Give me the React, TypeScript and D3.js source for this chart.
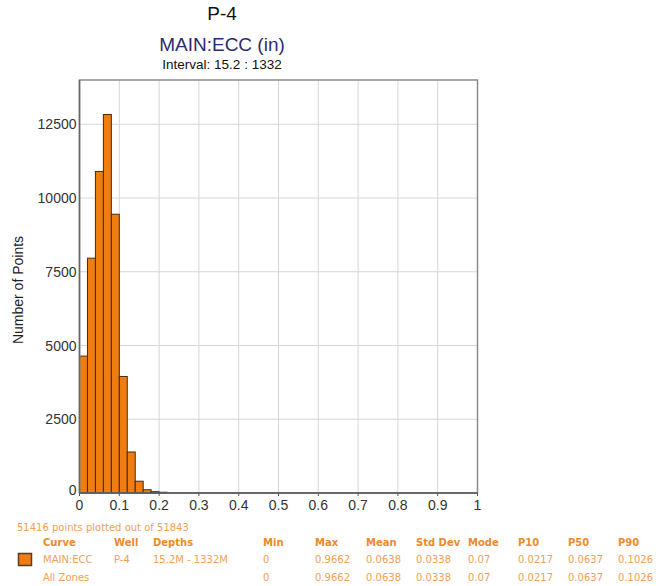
import React from "react";
import * as d3 from "d3";

const binStarts = [0, 0.02, 0.04, 0.06, 0.08, 0.1, 0.12, 0.14, 0.16, 0.18, 0.2];
const binCounts = [4640, 7960, 10900, 12830, 9450, 3950, 1390, 400, 110, 45, 25];
const binWidth = 0.02;
const xTicks = [0, 0.1, 0.2, 0.3, 0.4, 0.5, 0.6, 0.7, 0.8, 0.9, 1];
const yTicks = [0, 2500, 5000, 7500, 10000, 12500];

const statHeaders = ["Curve", "Well", "Depths", "Min", "Max", "Mean", "Std Dev", "Mode", "P10", "P50", "P90"];
const statRow1 = ["MAIN:ECC", "P-4", "15.2M - 1332M", "0", "0.9662", "0.0638", "0.0338", "0.07", "0.0217", "0.0637", "0.1026"];
const statRow2 = ["All Zones", "", "", "0", "0.9662", "0.0638", "0.0338", "0.07", "0.0217", "0.0637", "0.1026"];
const statColX = [43, 114, 153, 263, 315, 366, 416, 468, 518, 568, 618];

export default function App() {
  const W = 656, H = 586;
  const left = 79.5, right = 477.5, top = 80, bottom = 493;
  const x = d3.scaleLinear().domain([0, 1]).range([left, right]);
  const y = d3.scaleLinear().domain([0, 14000]).range([bottom, top]);
  const gridColor = "#d6d6d6";
  const font = "'Liberation Sans', Arial, sans-serif";
  const tableFont = "'DejaVu Sans', Verdana, sans-serif";
  const orange = "#f2a055";
  const orangeBold = "#ee8a2c";

  return (
    <svg width={W} height={H} style={{ position: "absolute", left: 0, top: 0, background: "#fff" }}>
      <rect x={0} y={0} width={W} height={H} fill="#fff" />
      {/* titles */}
      <text x={222} y={20} textAnchor="middle" fontFamily={font} fontSize={19} fill="#111">P-4</text>
      <text x={222} y={51} textAnchor="middle" fontFamily={font} fontSize={19} fill="#2c2c70">MAIN:ECC (in)</text>
      <text x={222} y={69} textAnchor="middle" fontFamily={font} fontSize={13.5} fill="#111">Interval: 15.2 : 1332</text>

      {/* grid */}
      {xTicks.slice(1, -1).map((t) => (
        <line key={"gx" + t} x1={x(t)} x2={x(t)} y1={top} y2={bottom} stroke={gridColor} strokeWidth={1} />
      ))}
      {yTicks.slice(1).map((t) => (
        <line key={"gy" + t} x1={left} x2={right} y1={y(t)} y2={y(t)} stroke={gridColor} strokeWidth={1} />
      ))}

      {/* bars */}
      {binStarts.map((b, i) => (
        <rect
          key={"b" + i}
          x={x(b)}
          y={y(binCounts[i])}
          width={x(b + binWidth) - x(b)}
          height={bottom - y(binCounts[i])}
          fill="#f07d12"
          stroke="#4a2a10"
          strokeWidth={1}
        />
      ))}

      {/* frame */}
      <rect x={left} y={top} width={right - left} height={bottom - top} fill="none" stroke="#8a8a8a" strokeWidth={1.5} />
      <line x1={left} x2={right} y1={bottom} y2={bottom} stroke="#555" strokeWidth={1.5} />
      <line x1={left} x2={left} y1={top} y2={bottom} stroke="#666" strokeWidth={1.5} />

      {/* x ticks */}
      {xTicks.map((t) => (
        <g key={"xt" + t}>
          <line x1={x(t)} x2={x(t)} y1={bottom} y2={bottom + 3} stroke="#555" />
          <text x={x(t)} y={bottom + 17} textAnchor="middle" fontFamily={font} fontSize={14} fill="#333">{t}</text>
        </g>
      ))}
      {/* y ticks */}
      {yTicks.map((t) => (
        <text key={"yt" + t} x={left - 3} y={y(t) + (t === 0 ? 2 : 5)} textAnchor="end" fontFamily={font} fontSize={14} fill="#333">{t}</text>
      ))}
      <text transform={`translate(23, 290) rotate(-90)`} textAnchor="middle" fontFamily={font} fontSize={14} fill="#222">Number of Points</text>

      {/* footer */}
      <text x={17} y={531} fontFamily={tableFont} fontSize={10} fill={orange}>51416 points plotted out of 51843</text>
      {statHeaders.map((h, i) => (
        <text key={"h" + i} x={statColX[i]} y={546} fontFamily={tableFont} fontSize={10} fontWeight="bold" fill={orangeBold}>{h}</text>
      ))}
      <rect x={18.5} y={553.5} width={13} height={12} fill="#f07d12" stroke="#5a3a20" strokeWidth={1.5} />
      {statRow1.map((v, i) => (
        <text key={"r1" + i} x={statColX[i]} y={563} fontFamily={tableFont} fontSize={10} fill={orange}>{v}</text>
      ))}
      {statRow2.map((v, i) => (
        <text key={"r2" + i} x={statColX[i]} y={581} fontFamily={tableFont} fontSize={10} fill={orange}>{v}</text>
      ))}
    </svg>
  );
}
